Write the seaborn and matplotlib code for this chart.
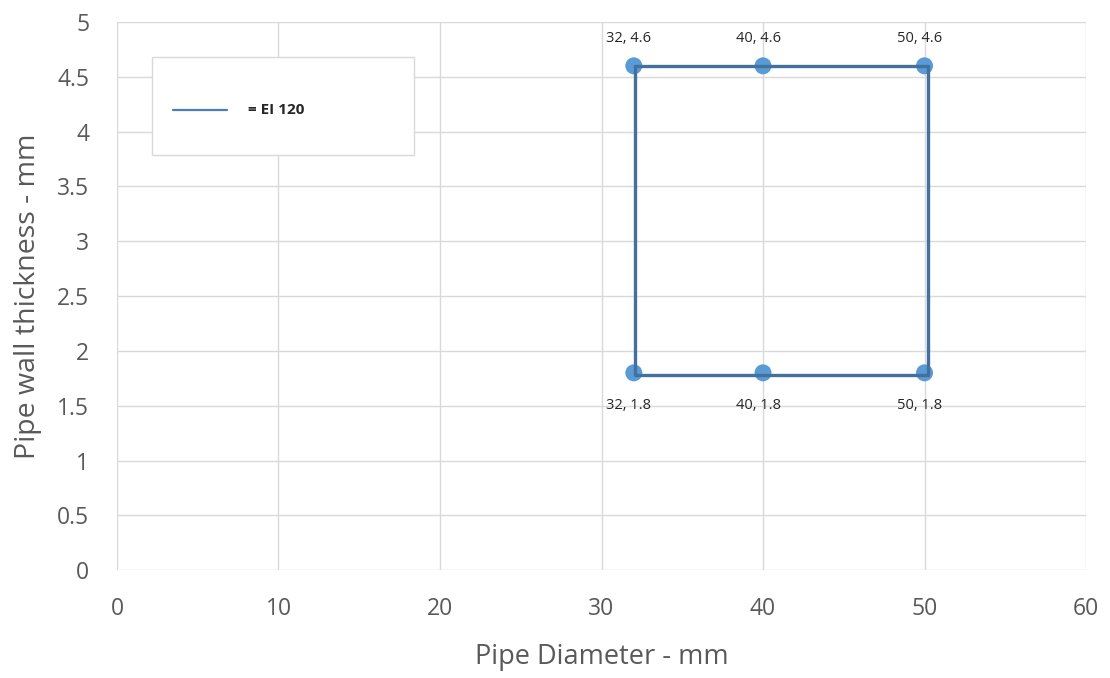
import numpy as np
import pandas as pd
import matplotlib
matplotlib.use("Agg")
import matplotlib.pyplot as plt
import seaborn as sns
from matplotlib.lines import Line2D
from matplotlib.patches import Rectangle

# data points (pipe diameter, wall thickness)
diameter = [32, 40, 50, 32, 40, 50]
thickness = [4.6, 4.6, 4.6, 1.8, 1.8, 1.8]

# outline of the EI 120 region
box_x = [32.1, 32.1, 50.2, 50.2, 32.1]
box_y = [4.6, 1.78, 1.78, 4.6, 4.6]

x_ticks = [0, 10, 20, 30, 40, 50, 60]
y_ticks = [0, 0.5, 1, 1.5, 2, 2.5, 3, 3.5, 4, 4.5, 5]
legend_label = "= EI 120"

sns.set_theme(style="white")
plt.rcParams['font.family'] = ['Open Sans', 'DejaVu Sans']

pts = pd.DataFrame({"d": diameter, "t": thickness})
box = pd.DataFrame({"d": box_x, "t": box_y})

fig = plt.figure(figsize=(11.1, 6.78), dpi=100)
ax = fig.add_axes([0.1054, 0.159, 0.873, 0.8086])

sns.scatterplot(data=pts, x="d", y="t", ax=ax, s=150, color="#5b9bd5",
                edgecolor="none", zorder=3, legend=False)
sns.lineplot(data=box, x="d", y="t", ax=ax, sort=False, estimator=None,
             color="#41719c", linewidth=2.4, zorder=4, legend=False)

for d, t in zip(diameter, thickness):
    dy = 27 if t > 3 else -33
    ax.annotate(f"{d}, {t}", (d, t), xytext=(-5, dy), textcoords="offset pixels",
                ha="center", va="center", fontsize=10.5, color="#262626")

ax.set_xlim(0, 60)
ax.set_ylim(0, 5)
ax.set_xticks(x_ticks)
ax.set_yticks(y_ticks)
ax.set_xticklabels([str(v) for v in x_ticks])
ax.set_yticklabels([f"{v:g}" for v in y_ticks])
ax.grid(True, color="#d9d9d9", linewidth=1)
ax.set_axisbelow(True)
for s in ax.spines.values():
    s.set_visible(False)
ax.tick_params(axis="both", length=0, labelsize=16.5, colors="#595959")
ax.tick_params(axis="x", pad=19)
ax.tick_params(axis="y", pad=20)
ax.set_xlabel("Pipe Diameter - mm", fontsize=19.5, color="#595959", labelpad=16)
ax.set_ylabel("Pipe wall thickness - mm", fontsize=20.5, color="#595959", labelpad=11)

# legend box
ax.add_patch(Rectangle((0.036, 0.757), 0.2705, 0.179, transform=ax.transAxes,
                       facecolor="white", edgecolor="#d9d9d9", linewidth=1, zorder=5))
ax.add_line(Line2D([0.058, 0.114], [0.84, 0.84], transform=ax.transAxes,
                   color="#4a7ebb", linewidth=1.6, zorder=6))
ax.text(0.135, 0.84, legend_label, transform=ax.transAxes, fontsize=11,
        fontweight="bold", color="#262626", va="center", ha="left", zorder=6)

fig.savefig("out.png", dpi=100)
